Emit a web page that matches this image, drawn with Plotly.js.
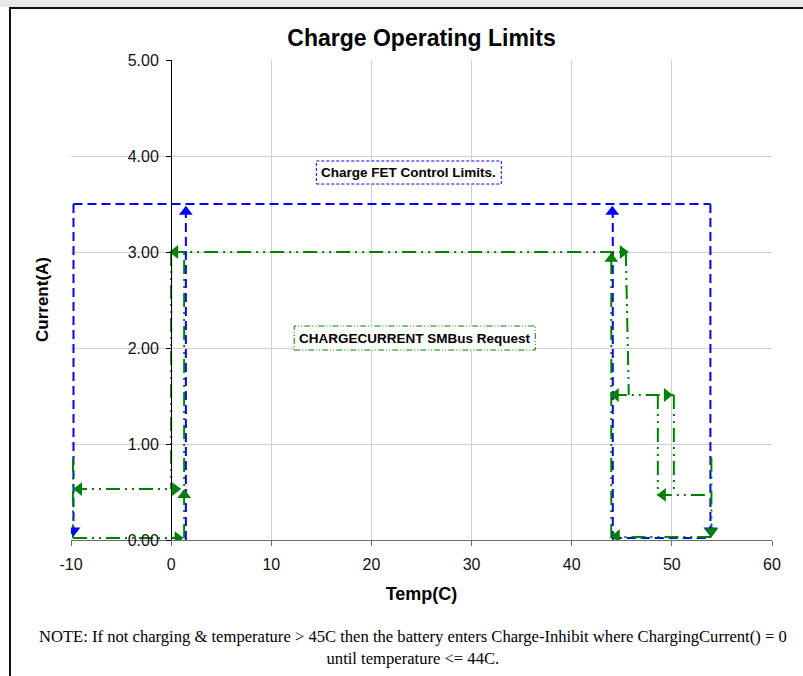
<!DOCTYPE html>
<html>
<head>
<meta charset="utf-8">
<script src="https://cdn.plot.ly/plotly-3.0.1.min.js"></script>
<style>
  html, body { margin: 0; padding: 0; background: #fff; overflow: hidden; }
  #wrap { position: relative; width: 803px; height: 676px; }
  #chart { position: absolute; left: 0; top: 0; width: 803px; height: 676px; }
  .band { position: absolute; left: 0; top: 0; width: 803px; height: 7px; background: #e9e9e9; pointer-events: none; }
  .ftop { position: absolute; left: 9px; top: 7px; width: 794px; height: 2px; background: #111; pointer-events: none; }
  .fleft { position: absolute; left: 9px; top: 7px; width: 2px; height: 669px; background: #111; pointer-events: none; }
</style>
</head>
<body>
<div id="wrap">
  <div id="chart"></div>
  <div class="band"></div>
  <div class="ftop"></div>
  <div class="fleft"></div>
</div>
<script>
// ---- Data ----
// Axis ticks
const xTickVals = [-10, 0, 10, 20, 30, 40, 50, 60];
const yTickVals = [0, 1, 2, 3, 4, 5];

// Charge FET Control Limits (blue dashed) - segments separated by null
const blueX = [-9.75, -9.75, null, -9.75, 53.85, null, 53.85, 53.85, null, 1.47, 1.47, null, 44.1, 44.1, null, 44.1, 53.85];
const blueY = [3.5, 0.03, null, 3.5, 3.5, null, 3.5, 0.03, null, 0.0, 3.5, null, 0.0, 3.5, null, 0.02, 0.02];

// Blue arrow heads
const blueArrowX = [-9.75, 1.47, 44.05, 53.85];
const blueArrowY = [0.10, 3.42, 3.42, 0.10];
const blueArrowSym = ['triangle-down', 'triangle-up', 'triangle-up', 'triangle-down'];

// CHARGECURRENT SMBus Request (green long-dash-dot-dot) - segments separated by null
const greenX = [
  -9.8, 0.9, null,
  1.3, 1.3, null,
  0.0, 45.4, null,
  0.0, 0.0, null,
  -9.8, 0.9, null,
  -9.8, -9.8, null,
  45.4, 45.7, null,
  44.1, 50.2, null,
  50.2, 50.2, null,
  48.6, 48.6, null,
  48.6, 53.6, null,
  53.95, 53.95, null,
  53.95, 44.1, null,
  43.95, 43.95
];
const greenY = [
  0.02, 0.02, null,
  0.02, 3.0, null,
  3.0, 3.0, null,
  3.0, 0.53, null,
  0.53, 0.53, null,
  0.85, 0.02, null,
  3.0, 1.51, null,
  1.51, 1.51, null,
  1.51, 0.53, null,
  1.51, 0.47, null,
  0.47, 0.47, null,
  0.86, 0.05, null,
  0.03, 0.03, null,
  0.02, 3.0
];

// Green arrow heads
const greenArrowX = [0.65, 1.3, -9.2, 0.4, 0.4, 45.1, 43.95, 44.4, 49.5, 49.1, 53.95, 44.5];
const greenArrowY = [0.02, 0.47, 0.53, 0.53, 3.0, 3.0, 2.93, 1.51, 1.51, 0.47, 0.09, 0.04];
const greenArrowSym = ['triangle-right', 'triangle-up', 'triangle-left', 'triangle-right', 'triangle-left',
  'triangle-right', 'triangle-up', 'triangle-left', 'triangle-right', 'triangle-left', 'triangle-down', 'triangle-left'];

// Texts
const titleText = 'Charge Operating Limits';
const xTitle = 'Temp(C)';
const yTitle = 'Current(A)';
const fetLabel = 'Charge FET Control Limits.';
const smbLabel = 'CHARGECURRENT SMBus Request';
const noteText = 'NOTE: If not charging &amp; temperature &gt; 45C then the battery enters Charge-Inhibit where ChargingCurrent() = 0<br>until temperature &lt;= 44C.';

// ---- Styles ----
const BLUE = '#0000ff';
const GREEN = '#008000';
const GREEN_DASH = '14px,5px,2px,5px,2px,5px';
const BLUE_DASH = '9px,5px';
const SANS = 'Liberation Sans, Arial, Helvetica, sans-serif';
const SERIF = 'Liberation Serif, Times New Roman, serif';

const traces = [
  {
    x: blueX, y: blueY, type: 'scatter', mode: 'lines', connectgaps: false,
    line: { color: BLUE, width: 2, dash: BLUE_DASH }, hoverinfo: 'skip'
  },
  {
    x: greenX, y: greenY, type: 'scatter', mode: 'lines', connectgaps: false,
    line: { color: GREEN, width: 2, dash: GREEN_DASH }, hoverinfo: 'skip'
  },
  {
    x: blueArrowX, y: blueArrowY, type: 'scatter', mode: 'markers',
    marker: { symbol: blueArrowSym, size: 12, color: BLUE }, hoverinfo: 'skip'
  },
  {
    x: greenArrowX, y: greenArrowY, type: 'scatter', mode: 'markers',
    marker: { symbol: greenArrowSym, size: 12, color: GREEN }, hoverinfo: 'skip'
  }
];

const layout = {
  width: 803, height: 676,
  margin: { l: 71, r: 31, t: 60, b: 136 },
  paper_bgcolor: '#ffffff', plot_bgcolor: '#ffffff',
  showlegend: false,
  title: {
    text: titleText, x: 0.5, xref: 'paper', y: 1 - 38 / 676, yref: 'container', yanchor: 'middle',
    font: { family: SANS, size: 23, color: '#000', weight: 'bold' }
  },
  xaxis: {
    range: [-10, 60], tickvals: xTickVals, ticktext: xTickVals.map(String),
    showgrid: true, gridcolor: '#cfcfcf', gridwidth: 1,
    zeroline: false, showline: true, linecolor: '#6e6e6e', linewidth: 1,
    ticks: 'outside', ticklen: 5, tickcolor: '#6e6e6e',
    tickfont: { family: SANS, size: 16, color: '#111' },
    ticklabelstandoff: 5,
    title: { text: xTitle, standoff: 15, font: { family: SANS, size: 18, color: '#000', weight: 'bold' } }
  },
  yaxis: {
    range: [0, 5], tickvals: yTickVals, tickformat: '.2f',
    anchor: 'free', position: 100 / 701,
    showgrid: true, gridcolor: '#cfcfcf', gridwidth: 1,
    zeroline: false, showline: true, linecolor: '#000', linewidth: 1,
    ticks: 'outside', ticklen: 5, tickcolor: '#000',
    tickfont: { family: SANS, size: 16, color: '#111' },
    ticklabelstandoff: 4
  },
  shapes: [
    { type: 'rect', xref: 'x', yref: 'y', x0: 14.5, x1: 32.97, y0: 3.708, y1: 3.948,
      line: { color: BLUE, width: 1, dash: '3px,2px' }, fillcolor: 'rgba(255,255,255,1)', layer: 'above' },
    { type: 'rect', xref: 'x', yref: 'y', x0: 12.29, x1: 36.36, y0: 1.979, y1: 2.229,
      line: { color: GREEN, width: 1, dash: '6px,2px,1px,2px,1px,2px' }, fillcolor: 'rgba(255,255,255,1)', layer: 'above' }
  ],
  annotations: [
    { text: fetLabel, x: 23.73, y: 3.83, xref: 'x', yref: 'y', showarrow: false,
      font: { family: SANS, size: 13.5, color: '#000', weight: 'bold' } },
    { text: smbLabel, x: 24.32, y: 2.10, xref: 'x', yref: 'y', showarrow: false,
      font: { family: SANS, size: 13.5, color: '#000', weight: 'bold' } },
    { text: yTitle, textangle: -90, x: (42 - 71) / 701, y: 0.5, xref: 'paper', yref: 'paper',
      xanchor: 'center', yanchor: 'middle', showarrow: false,
      font: { family: SANS, size: 17, color: '#000', weight: 'bold' } },
    { text: noteText, x: (413 - 71) / 701, y: (540 - 647) / 480, xref: 'paper', yref: 'paper',
      xanchor: 'center', yanchor: 'middle', showarrow: false, align: 'center',
      font: { family: SERIF, size: 16.6, color: '#000' } }
  ]
};

Plotly.newPlot('chart', traces, layout, { staticPlot: true, displayModeBar: false });
</script>
</body>
</html>
